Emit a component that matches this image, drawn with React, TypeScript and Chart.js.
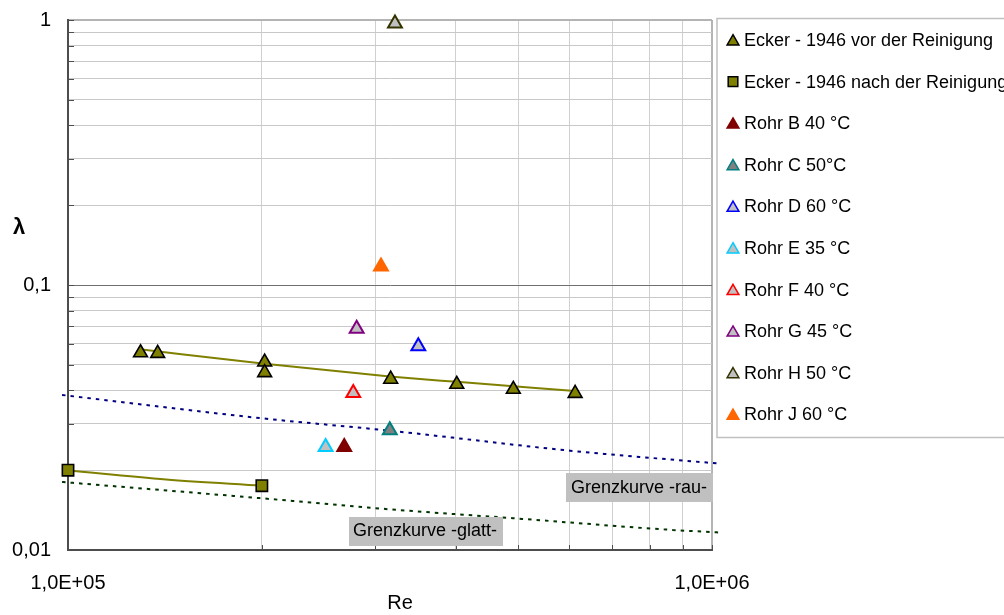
import React, { useEffect, useRef } from "react";
import { Chart, registerables } from "chart.js";
import { drawPoint } from "chart.js/helpers";

Chart.register(...registerables);

// ---------- data ----------
const eckerVorRe = [1.296e5, 1.378e5, 2.02e5, 2.02e5, 3.17e5, 4.015e5, 4.915e5, 6.13e5];
const eckerVorLambda = [0.0555, 0.0552, 0.0512, 0.0467, 0.0441, 0.0422, 0.0404, 0.039];
const eckerVorTrendRe = [1.293e5, 2.02e5, 3.16e5, 4.015e5, 6.13e5];
const eckerVorTrendLambda = [0.0572, 0.0504, 0.0452, 0.0431, 0.0398];

const eckerNachRe = [1.0e5, 2.0e5];
const eckerNachLambda = [0.02, 0.01748];
const eckerNachTrendRe = [1.0e5, 1.42e5, 2.0e5];
const eckerNachTrendLambda = [0.01995, 0.01845, 0.01748];

const rohrRe = [2.685e5, 3.16e5, 3.499e5, 2.512e5, 2.773e5, 2.807e5, 3.219e5, 3.062e5];
const rohrLambda = [0.02447, 0.02829, 0.0587, 0.02447, 0.03914, 0.06842, 0.97, 0.1174];
const rohrLabels = [
  "Rohr B 40 °C",
  "Rohr C 50°C",
  "Rohr D 60 °C",
  "Rohr E 35 °C",
  "Rohr F 40 °C",
  "Rohr G 45 °C",
  "Rohr H 50 °C",
  "Rohr J 60 °C",
];
const rohrFill = ["#800000", "#808080", "#c0c0c0", "#c0c0c0", "#c0c0c0", "#c0c0c0", "#c0c0c0", "#ff6600"];
const rohrBorder = ["#800000", "#008080", "#0000ff", "#00ccff", "#ff0000", "#800080", "#333300", "#ff6600"];

const rauRe = [0.979e5, 2.0e5, 3.16e5, 6.02e5, 1.03e6];
const rauLambda = [0.03846, 0.0314, 0.0282, 0.0237, 0.02117];
const glattRe = [0.979e5, 2.0e5, 3.16e5, 4.91e5, 8.7e5, 1.03e6];
const glattLambda = [0.01806, 0.01567, 0.01424, 0.01318, 0.0119, 0.01164];

const xGridTicks = [1e5, 2e5, 3e5, 4e5, 5e5, 6e5, 7e5, 8e5, 9e5, 1e6];
const xLabelTicks = [1e5, 1e6];
const xLabelTexts = ["1,0E+05", "1,0E+06"];
const yGridTicks = [
  0.01, 0.02, 0.03, 0.04, 0.05, 0.06, 0.07, 0.08, 0.09,
  0.1, 0.2, 0.3, 0.4, 0.5, 0.6, 0.7, 0.8, 0.9, 1,
];
const yLabelTicks = [0.01, 0.1, 1];
const yLabelTexts = ["0,01", "0,1", "1"];

const xTitle = "Re";
const yTitle = "λ";
const rauText = "Grenzkurve -rau-";
const glattText = "Grenzkurve -glatt-";

const FONT = "'Liberation Sans', Arial, sans-serif";

const near = (a: number, b: number) => Math.abs(a - b) / b < 1e-6;
const pts = (xs: number[], ys: number[]) => xs.map((x, i) => ({ x, y: ys[i] }));

type LegendItem = { label: string; style: string; fill: string; border: string; bw: number };

const legendItems: LegendItem[] = [
  { label: "Ecker - 1946 vor der Reinigung", style: "triangle", fill: "#808000", border: "#000000", bw: 1.5 },
  { label: "Ecker - 1946 nach der Reinigung", style: "rect", fill: "#808000", border: "#000000", bw: 1.5 },
  ...rohrLabels.map((l, i) => ({ label: l, style: "triangle", fill: rohrFill[i], border: rohrBorder[i], bw: 1.5 })),
];

export default function App() {
  const ref = useRef<HTMLCanvasElement>(null);

  useEffect(() => {
    const datasets: any[] = [
      {
        label: "Ecker - 1946 vor der Reinigung",
        data: pts(eckerVorRe, eckerVorLambda),
        pointStyle: "triangle",
        pointRadius: 8,
        pointBackgroundColor: "#808000",
        pointBorderColor: "#000000",
        pointBorderWidth: 1.6,
        showLine: false,
        order: 0,
        clip: false,
      },
      {
        label: "Ecker - 1946 nach der Reinigung",
        data: pts(eckerNachRe, eckerNachLambda),
        pointStyle: "rect",
        pointRadius: 8,
        pointBackgroundColor: "#808000",
        pointBorderColor: "#000000",
        pointBorderWidth: 1.6,
        showLine: false,
        order: 0,
        clip: false,
      },
      ...rohrLabels.map((l, i) => ({
        label: l,
        data: [{ x: rohrRe[i], y: rohrLambda[i] }],
        pointStyle: "triangle",
        pointRadius: 8,
        pointBackgroundColor: rohrFill[i],
        pointBorderColor: rohrBorder[i],
        pointBorderWidth: 2,
        showLine: false,
        order: 0,
        clip: false,
      })),
      {
        label: "trend vor",
        data: pts(eckerVorTrendRe, eckerVorTrendLambda),
        showLine: true,
        borderColor: "#808000",
        borderWidth: 2,
        pointRadius: 0,
        cubicInterpolationMode: "monotone",
        order: 1,
      },
      {
        label: "trend nach",
        data: pts(eckerNachTrendRe, eckerNachTrendLambda),
        showLine: true,
        borderColor: "#808000",
        borderWidth: 2,
        pointRadius: 0,
        cubicInterpolationMode: "monotone",
        order: 1,
      },
      {
        label: "rau",
        data: pts(rauRe, rauLambda),
        showLine: true,
        borderColor: "#000080",
        borderWidth: 2,
        borderDash: [3.5, 5],
        pointRadius: 0,
        cubicInterpolationMode: "monotone",
        order: 2,
        clip: false,
      },
      {
        label: "glatt",
        data: pts(glattRe, glattLambda),
        showLine: true,
        borderColor: "#003300",
        borderWidth: 2,
        borderDash: [3.5, 5],
        pointRadius: 0,
        cubicInterpolationMode: "monotone",
        order: 2,
        clip: false,
      },
    ];

    const overlay = {
      id: "overlay",
      beforeDatasetsDraw(chart: any) {
        const ctx = chart.ctx;
        const a = chart.chartArea;
        const xs = chart.scales.x;
        const ys = chart.scales.y;
        ctx.save();
        ctx.strokeStyle = "#4d4d4d";
        ctx.lineWidth = 1;
        ctx.beginPath();
        for (const t of xs.ticks) {
          const px = Math.round(xs.getPixelForValue(t.value)) + 0.5;
          ctx.moveTo(px, a.bottom);
          ctx.lineTo(px, a.bottom - 5);
        }
        for (const t of ys.ticks) {
          const py = Math.round(ys.getPixelForValue(t.value)) + 0.5;
          ctx.moveTo(a.left, py);
          ctx.lineTo(a.left + 6, py);
        }
        ctx.stroke();
        ctx.restore();
      },
      afterDatasetsDraw(chart: any) {
        const ctx = chart.ctx;
        const a = chart.chartArea;
        ctx.save();
        ctx.font = `18px ${FONT}`;
        ctx.textBaseline = "middle";
        ctx.textAlign = "left";
        ctx.fillStyle = "#c0c0c0";
        ctx.fillRect(566, 473, a.right + 1 - 566, 29);
        ctx.fillRect(349, 517, 154, 29);
        ctx.fillStyle = "#000000";
        ctx.fillText(rauText, 571, 488);
        ctx.fillText(glattText, 353, 531.5);
        ctx.restore();
      },
      afterDraw(chart: any) {
        const ctx = chart.ctx;
        ctx.save();
        ctx.fillStyle = "#000";
        ctx.textBaseline = "middle";
        ctx.textAlign = "center";
        ctx.font = `20px ${FONT}`;
        ctx.fillText(xTitle, 400, 603);
        ctx.font = `bold 22px ${FONT}`;
        ctx.fillText(yTitle, 19, 228);
        // legend
        ctx.strokeStyle = "#c0c0c0";
        ctx.lineWidth = 1.5;
        ctx.strokeRect(717, 18.5, 400, 419);
        ctx.font = `18px ${FONT}`;
        ctx.textAlign = "left";
        legendItems.forEach((it, i) => {
          const y = 40 + i * 41.6;
          ctx.fillStyle = it.fill;
          ctx.strokeStyle = it.border;
          ctx.lineWidth = it.bw;
          const yy = it.style === "triangle" ? y + 1.5 : y;
          drawPoint(ctx, { pointStyle: it.style, rotation: 0, radius: 6.8, borderWidth: it.bw } as any, 733, yy);
          ctx.fillStyle = "#000";
          ctx.fillText(it.label, 744, y + 1);
        });
        ctx.restore();
      },
    };

    const chart = new Chart(ref.current!, {
      type: "scatter",
      data: { datasets },
      options: {
        animation: false,
        responsive: false,
        devicePixelRatio: 1,
        layout: { padding: { top: 20, right: 292, left: 0, bottom: 0 } },
        plugins: { legend: { display: false }, tooltip: { enabled: false } },
        scales: {
          x: {
            type: "logarithmic",
            min: 1e5,
            max: 1e6,
            afterBuildTicks: (s: any) => {
              s.ticks = xGridTicks.map((v) => ({ value: v }));
            },
            afterFit: (s: any) => {
              s.height = 65;
              s.paddingLeft = 0;
              s.paddingRight = 0;
            },
            ticks: {
              autoSkip: false,
              maxRotation: 0,
              padding: 21,
              color: "#000",
              font: { family: FONT, size: 20 },
              callback: (v: any) => {
                const i = xLabelTicks.findIndex((m) => near(Number(v), m));
                return i >= 0 ? xLabelTexts[i] : "";
              },
            },
            grid: {
              drawTicks: false,
              tickLength: 0,
              color: (c: any) => (c.tick && near(c.tick.value, 1e6) ? "#b4b4b4" : "#d0d0d0"),
              lineWidth: (c: any) => (c.tick && near(c.tick.value, 1e6) ? 2 : 1),
            },
            border: { display: true, color: "#4d4d4d", width: 2 },
          },
          y: {
            type: "logarithmic",
            min: 0.01,
            max: 1,
            afterBuildTicks: (s: any) => {
              s.ticks = yGridTicks.map((v) => ({ value: v }));
            },
            afterFit: (s: any) => {
              s.width = 68;
              s.paddingTop = 0;
              s.paddingBottom = 0;
            },
            ticks: {
              autoSkip: false,
              padding: 17,
              color: "#000",
              font: { family: FONT, size: 20 },
              callback: (v: any) => {
                const i = yLabelTicks.findIndex((m) => near(Number(v), m));
                return i >= 0 ? yLabelTexts[i] : "";
              },
            },
            grid: {
              drawTicks: false,
              tickLength: 0,
              color: (c: any) =>
                c.tick && near(c.tick.value, 0.1) ? "#707070" : c.tick && near(c.tick.value, 1) ? "#b4b4b4" : "#c8c8c8",
              lineWidth: (c: any) => (c.tick && near(c.tick.value, 1) ? 2 : 1),
            },
            border: { display: true, color: "#4d4d4d", width: 2 },
          },
        },
      },
      plugins: [overlay],
    } as any);
    return () => chart.destroy();
  }, []);

  return (
    <div style={{ position: "fixed", left: 0, top: 0, width: 1004, height: 615, background: "#fff" }}>
      <canvas ref={ref} width={1004} height={615} style={{ display: "block", width: 1004, height: 615 }} />
    </div>
  );
}
